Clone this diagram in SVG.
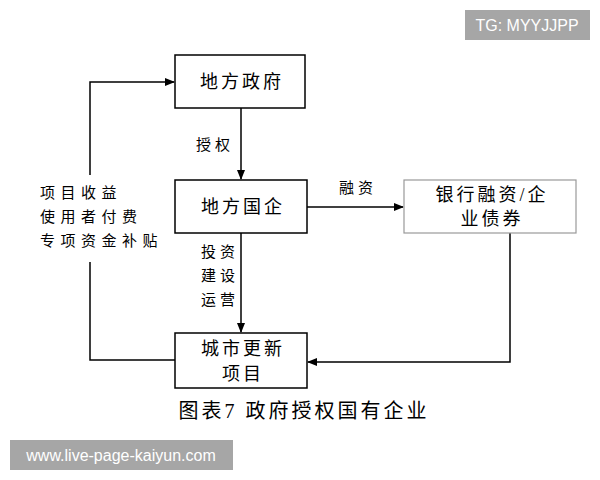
<svg xmlns="http://www.w3.org/2000/svg" width="600" height="480" viewBox="0 0 600 480">
<style>
.box{fill:#fff;stroke:#000;stroke-width:1.5}
.t{font-family:"Liberation Serif","Noto Sans CJK SC",serif;font-size:18px;letter-spacing:3px;fill:#000;text-anchor:middle}
.s{font-family:"Liberation Serif","Noto Sans CJK SC",serif;font-size:15px;letter-spacing:4px;fill:#000;text-anchor:middle}
.l{font-family:"Liberation Serif","Noto Sans CJK SC",serif;font-size:15px;letter-spacing:5.5px;fill:#000}
.ln{fill:none;stroke:#000;stroke-width:1.5}
</style>
<defs><marker id="a" markerWidth="10" markerHeight="8" refX="9" refY="4" orient="auto" markerUnits="userSpaceOnUse"><path d="M0,0 L10,4 L0,8 Z" fill="#000"/></marker></defs>
<rect width="600" height="480" fill="#fff"/>
<g id="connectors">
<path class="ln" d="M241,108 V179" marker-end="url(#a)"/>
<path class="ln" d="M307,207 H403" marker-end="url(#a)"/>
<path class="ln" d="M241,233 V332" marker-end="url(#a)"/>
<path class="ln" d="M510,233 V362 H308" marker-end="url(#a)"/>
<path class="ln" d="M175,360 H90 V262 M90,175 V82 H174" marker-end="url(#a)"/>
<text class="s" x="215" y="150">授权</text>
<text class="s" x="358" y="193">融资</text>
<text class="s" x="220" y="257">投资</text>
<text class="s" x="220" y="281">建设</text>
<text class="s" x="220" y="305">运营</text>
<text class="l" x="40" y="198">项目收益</text>
<text class="l" x="40" y="222">使用者付费</text>
<text class="l" x="40" y="246">专项资金补贴</text>
</g>
<g id="n1"><rect class="box" x="175" y="55" width="130" height="53"/><text class="t" x="242" y="88">地方政府</text></g>
<g id="n2"><rect class="box" x="175" y="180" width="132" height="53"/><text class="t" x="243" y="213">地方国企</text></g>
<g id="n3"><rect x="404" y="180" width="172" height="53" fill="#fff" stroke="#999" stroke-width="1.2"/><text class="t" x="492" y="201">银行融资/企</text><text class="t" x="492" y="225">业债券</text></g>
<g id="n4"><rect class="box" x="175" y="333" width="132" height="55"/><text class="t" x="243" y="355">城市更新</text><text class="t" x="243" y="380">项目</text></g>
<text class="t" x="304" y="418" font-size="20" style="letter-spacing:3px;font-size:20px">图表7 政府授权国有企业</text>
<rect x="465" y="10" width="125" height="30" fill="#a6a6a6"/>
<text x="527" y="31" font-family="Liberation Sans,sans-serif" font-size="16" fill="#fff" text-anchor="middle">TG: MYYJJPP</text>
<rect x="10" y="440" width="223" height="30" fill="#a6a6a6"/>
<text x="121" y="461" font-family="Liberation Sans,sans-serif" font-size="16" fill="#fff" text-anchor="middle">www.live-page-kaiyun.com</text>
</svg>
